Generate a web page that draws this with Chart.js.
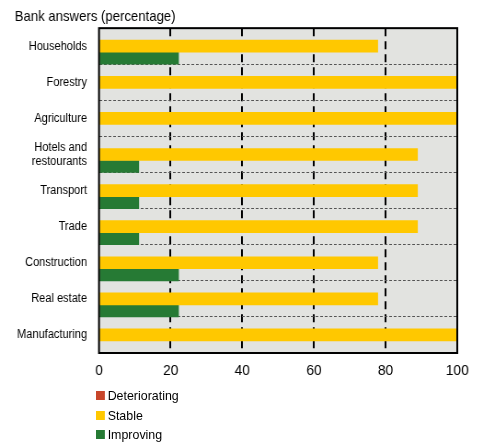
<!DOCTYPE html>
<html>
<head>
<meta charset="utf-8">
<script src="https://cdn.jsdelivr.net/npm/chart.js@4.4.1/dist/chart.umd.min.js"></script>
<style>
  html, body { margin: 0; padding: 0; background: #fff; overflow: hidden; }
  #wrap {
    position: absolute; left: 0; top: 0;
    width: 520px; height: 443px;
    transform: scaleX(0.92); transform-origin: 0 0;
  }
  #legend {
    position: absolute; left: 104px; top: 386px;
    font: 13.5px "Liberation Sans", Arial, sans-serif; color: #000;
  }
  #legend .item { display: flex; align-items: center; height: 19.5px; }
  #legend .box { width: 10px; height: 9px; margin-right: 3px; }
</style>
</head>
<body>
<div id="wrap">
  <canvas id="answers" width="520" height="443"></canvas>
  <div id="legend"></div>
</div>
<script>
const categories = ['Households', 'Forestry', 'Agriculture', ['Hotels and', 'restourants'],
  'Transport', 'Trade', 'Construction', 'Real estate', 'Manufacturing'];
const seriesNames = ['Deteriorating', 'Stable', 'Improving'];
const seriesColors = ['#c8462b', '#ffc800', '#267a34'];
const deteriorating = [0, 0, 0, 0, 0, 0, 0, 0, 0];
const stable = [77.8, 100, 100, 88.9, 88.9, 88.9, 77.8, 77.8, 100];
const improving = [22.2, 0, 0, 11.1, 11.1, 11.1, 22.2, 22.2, 0];
const xTicks = [0, 20, 40, 60, 80, 100];

const FONT = '"Liberation Sans", Arial, sans-serif';

// grey plot area and black frame around it
const plotFrame = {
  id: 'plotFrame',
  beforeDraw(chart) {
    const a = chart.chartArea, ctx = chart.ctx;
    ctx.save();
    ctx.fillStyle = '#e2e3e0';
    ctx.fillRect(a.left, a.top, a.right - a.left, a.bottom - a.top);
    ctx.restore();
  },
  afterDraw(chart) {
    const a = chart.chartArea, ctx = chart.ctx;
    ctx.save();
    ctx.strokeStyle = '#000';
    ctx.lineWidth = 2;
    ctx.strokeRect(a.left, a.top, a.right - a.left, a.bottom - a.top);
    ctx.restore();
  }
};

const values = [deteriorating, stable, improving];
const datasets = seriesNames.map((name, i) => ({
  label: name,
  data: values[i],
  backgroundColor: seriesColors[i],
  borderWidth: 0,
  categoryPercentage: 1,
  barPercentage: 1
}));

new Chart(document.getElementById('answers'), {
  type: 'bar',
  data: { labels: categories, datasets: datasets },
  plugins: [plotFrame],
  options: {
    indexAxis: 'y',
    responsive: false,
    animation: false,
    layout: { padding: { left: 16, right: 23, top: 0, bottom: 50 } },
    plugins: {
      legend: { display: false },
      tooltip: { enabled: false },
      title: {
        display: true,
        text: 'Bank answers (percentage)',
        align: 'start',
        color: '#000',
        font: { family: FONT, size: 14.3, weight: 'normal' },
        padding: { top: 8, bottom: 3 }
      }
    },
    scales: {
      x: {
        min: 0,
        max: 100,
        afterFit(scale) { scale.height = 40; },
        afterBuildTicks(scale) { scale.ticks = xTicks.map(v => ({ value: v })); },
        ticks: { color: '#000', padding: 9, font: { family: FONT, size: 15 } },
        grid: {
          drawTicks: false,
          lineWidth: 2,
          color: c => (c.tick && (c.tick.value === 0 || c.tick.value === 100)) ? 'rgba(0,0,0,0)' : '#000'
        },
        border: { display: false, dash: [8, 5] }
      },
      y: {
        afterFit(scale) { scale.width = 91.6; },
        ticks: { color: '#000', padding: 13, font: { family: FONT, size: 12 } },
        grid: { drawTicks: false, lineWidth: 1, color: '#555', offset: true },
        border: { display: false, dash: [3, 2] }
      }
    }
  }
});

// legend stacked below the axis
const legend = document.getElementById('legend');
seriesNames.forEach((name, i) => {
  const row = document.createElement('div');
  row.className = 'item';
  const box = document.createElement('span');
  box.className = 'box';
  box.style.background = seriesColors[i];
  const txt = document.createElement('span');
  txt.textContent = name;
  row.appendChild(box);
  row.appendChild(txt);
  legend.appendChild(row);
});
</script>
</body>
</html>
